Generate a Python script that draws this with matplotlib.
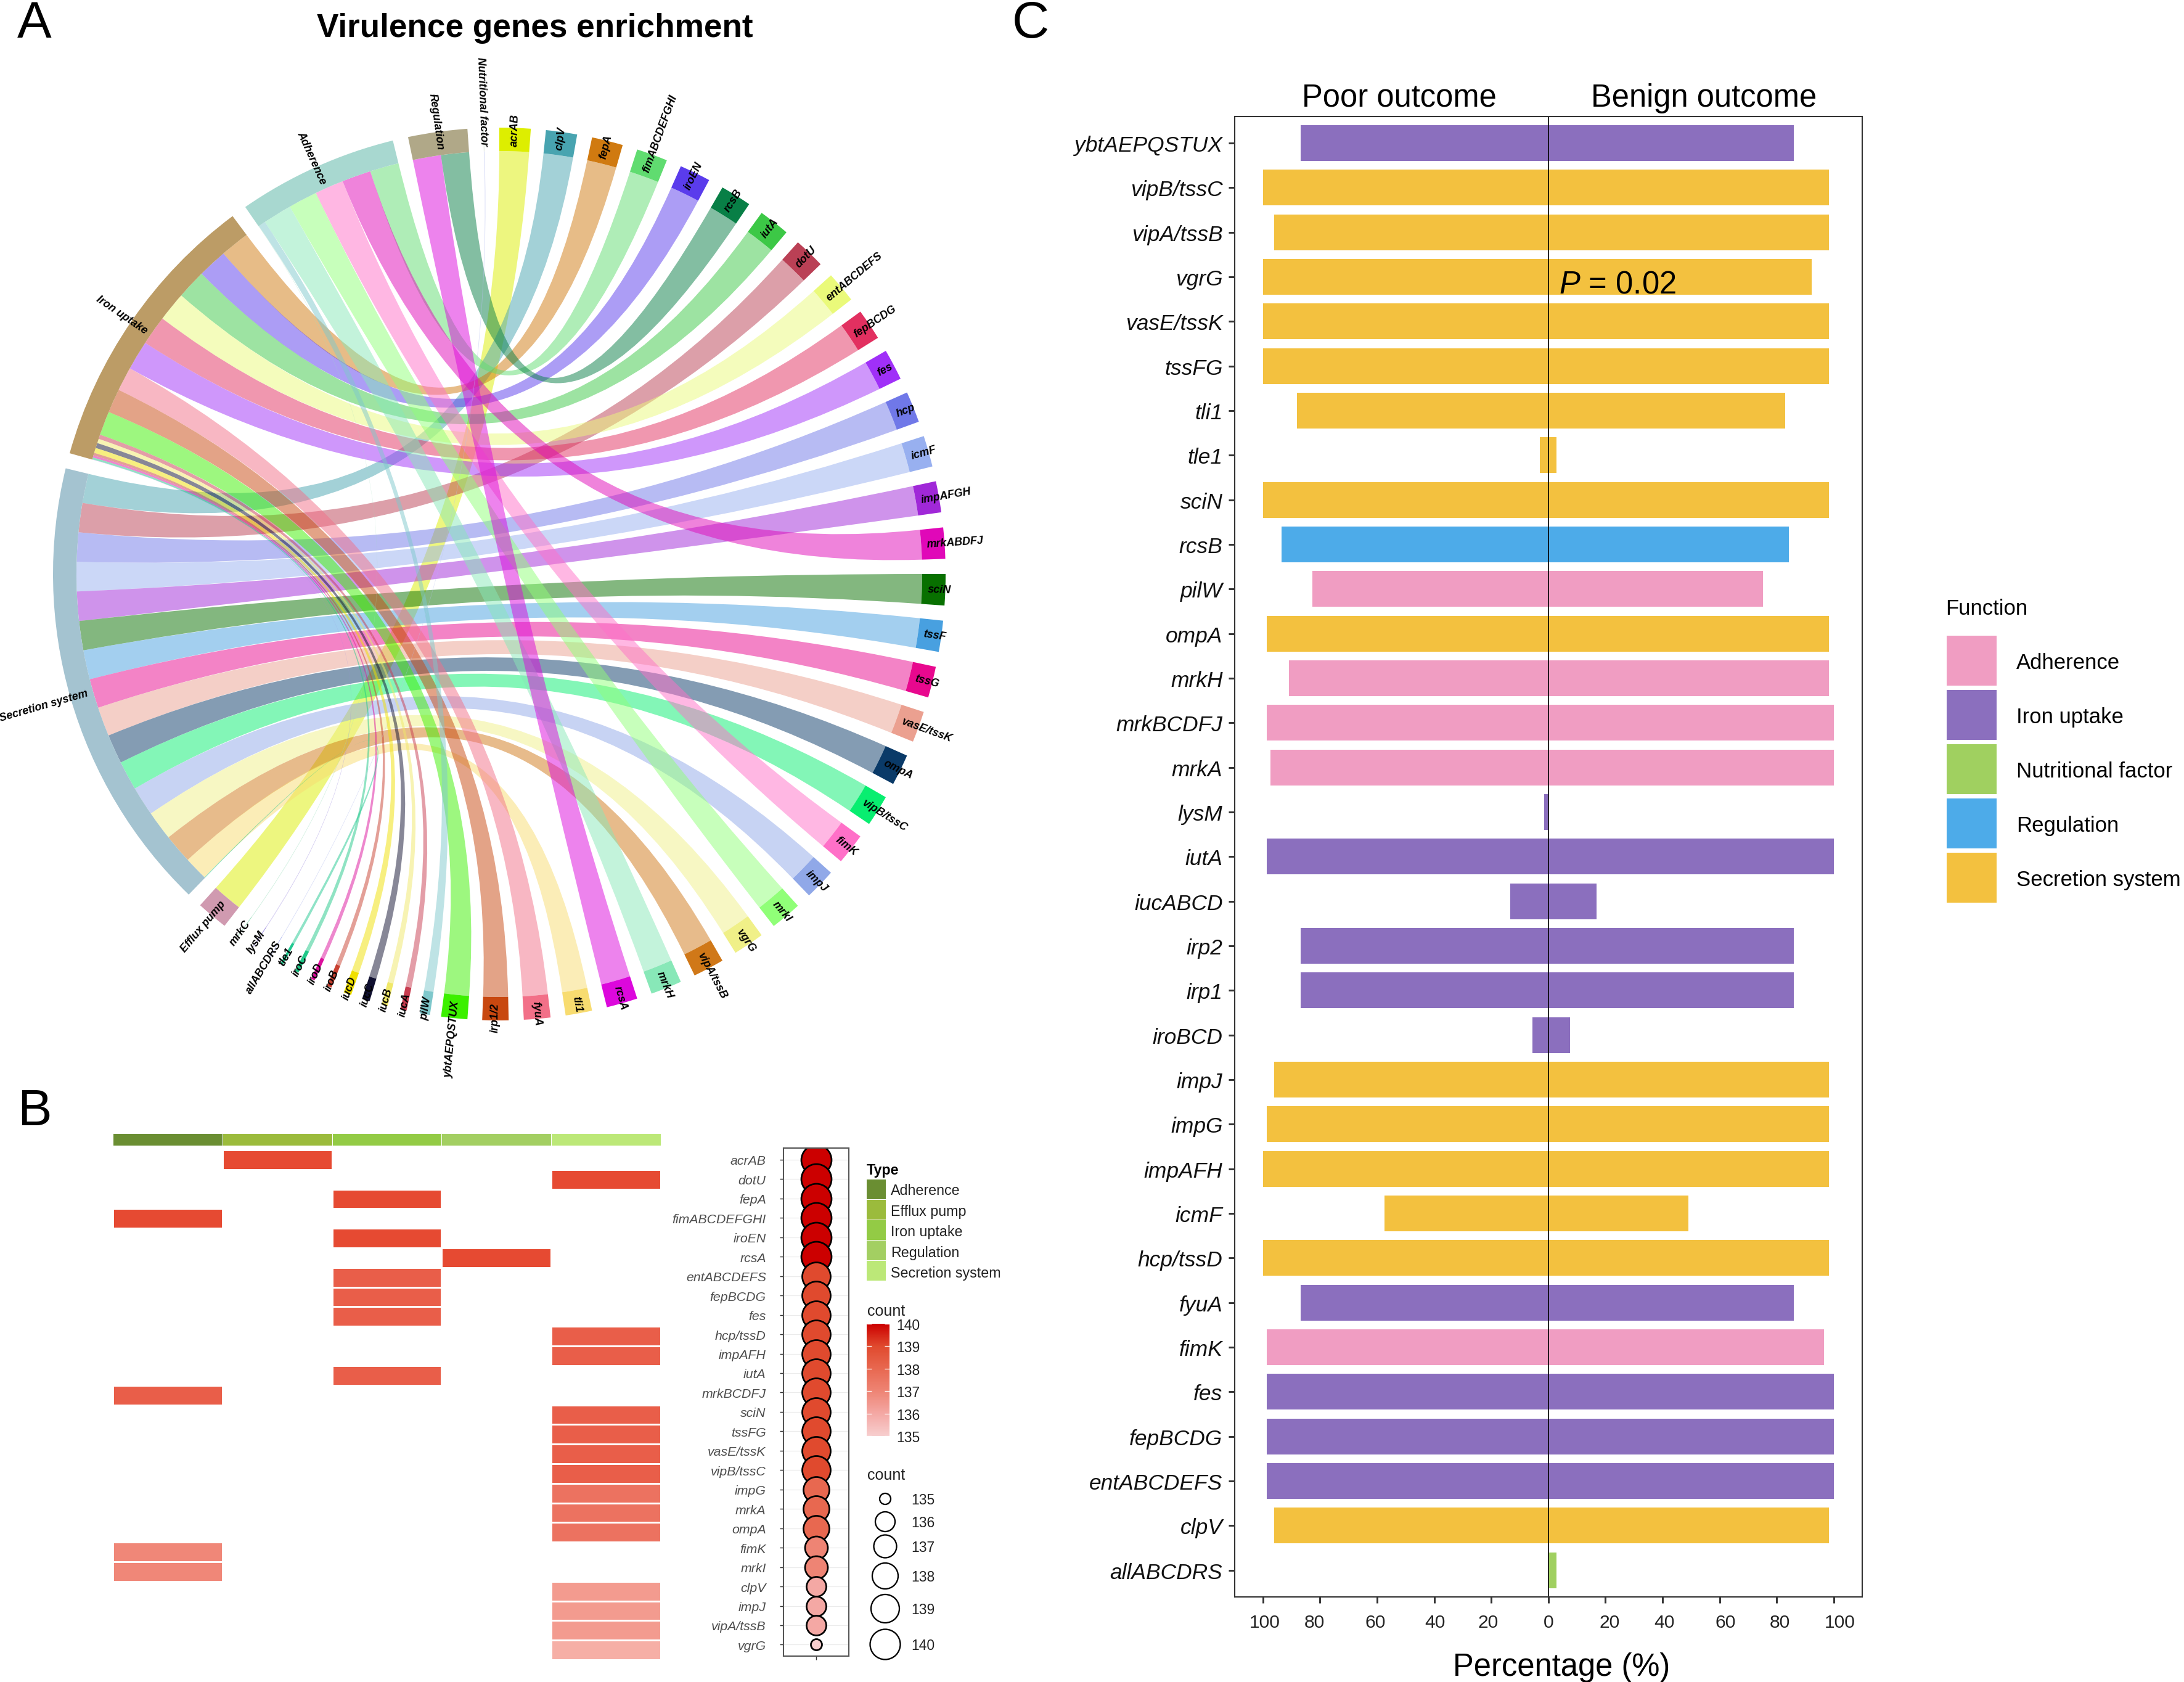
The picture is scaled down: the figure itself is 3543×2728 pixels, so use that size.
import numpy as np
import matplotlib
matplotlib.use("Agg")
import matplotlib.pyplot as plt
from matplotlib.colors import LinearSegmentedColormap, Normalize, to_rgba
from matplotlib.patches import PathPatch, Rectangle, Wedge, Circle
from matplotlib.path import Path
from matplotlib.cm import ScalarMappable
from matplotlib.transforms import ScaledTranslation

plt.rcParams["font.family"] = ["Liberation Sans", "DejaVu Sans"]
plt.rcParams["mathtext.fontset"] = "custom"
plt.rcParams["mathtext.it"] = "Liberation Sans:italic"
plt.rcParams["mathtext.rm"] = "Liberation Sans"

W, H = 3543, 2729

# ---- panel A data (angles in degrees, clockwise from top) ----
gene_names = ["acrAB", "clpV", "fepA", "fimABCDEFGHI", "iroEN", "rcsB", "iutA", "dotU", "entABCDEFS",
              "fepBCDG", "fes", "hcp", "icmF", "impAFGH", "mrkABDFJ", "sciN", "tssF", "tssG", "vasE/tssK",
              "ompA", "vipB/tssC", "fimK", "impJ", "mrkI", "vgrG", "vipA/tssB", "mrkH", "rcsA", "tli1",
              "fyuA", "irp1/2", "ybtAEPQSTUX", "pilW", "iucA", "iucB", "iucC", "iucD", "iroB", "iroD",
              "iroC", "tle1", "allABCDRS", "lysM", "mrkC"]
gene_start = [0, 6, 12, 18, 24, 30, 36, 42, 48, 54, 60, 66, 72, 78, 84, 90, 96, 102, 108, 114, 120, 126,
              132, 138, 144, 150, 156, 162, 168, 173.4, 178.8, 184.1, 188.95, 192.0, 194.5, 196.9, 199.4,
              202.1, 204.45, 206.75, 209.0, 210.9, 213.4, 215.8]
gene_width = [4.05] * 28 + [3.45, 3.45, 3.4, 3.4, 1.3, 0.8, 0.8, 1.0, 1.0, 0.6, 0.5, 0.5, 0.35, 0.08, 0.08, 0.08]
gene_cat = ["Efflux pump", "Secretion system", "Iron uptake", "Adherence", "Iron uptake", "Regulation",
            "Iron uptake", "Secretion system", "Iron uptake", "Iron uptake", "Iron uptake",
            "Secretion system", "Secretion system", "Secretion system", "Adherence", "Secretion system",
            "Secretion system", "Secretion system", "Secretion system", "Secretion system",
            "Secretion system", "Adherence", "Secretion system", "Adherence", "Secretion system",
            "Secretion system", "Adherence", "Regulation", "Secretion system", "Iron uptake", "Iron uptake",
            "Iron uptake", "Adherence", "Iron uptake", "Iron uptake", "Iron uptake", "Iron uptake",
            "Iron uptake", "Iron uptake", "Iron uptake", "Secretion system", "Nutritional factor",
            "Iron uptake", "Adherence"]
# width of each link where it lands on its category sector
link_width = [4.05] * 28 + [3.3, 3.3, 3.3, 3.3, 1.0, 0.6, 0.6, 0.7, 0.7, 0.35, 0.3, 0.25, 0.1, 0.1, 0.05, 0.05]
gene_color = ["#DDEE00", "#48A4B0", "#D07A10", "#60DC70", "#5A3CEC", "#087F46", "#3CC846", "#BA4055",
              "#EAFA7A", "#E23060", "#A030F8", "#7078E8", "#98B0F0", "#A028D8", "#E008B8", "#087000",
              "#48A0E0", "#E8088E", "#EBA090", "#0A3A68", "#08EE70", "#FF70C8", "#90A8E8", "#90FF78",
              "#F0F088", "#D07818", "#88E8B8", "#DC08DC", "#F8DC70", "#F27088", "#C84810", "#3CF000",
              "#7FC8CC", "#C83C50", "#F0E868", "#101030", "#F0E000", "#C84030", "#DC109C", "#20C888",
              "#20C890", "#B8C0F0", "#A090E0", "#A0E0C0"]
cat_names = ["Efflux pump", "Secretion system", "Iron uptake", "Adherence", "Regulation", "Nutritional factor"]
cat_start = [218.0, 224.1, 285.7, 325.3, 348.2, 357.9]
cat_end = [222.1, 283.7, 323.3, 346.2, 355.9, 358.0]
cat_color = ["#D09AB0", "#A4C3D0", "#BC9C66", "#A8D8D0", "#B0A888", "#E0E8E0"]

# ---- panel B data ----
row_genes = ["acrAB", "dotU", "fepA", "fimABCDEFGHI", "iroEN", "rcsA", "entABCDEFS", "fepBCDG", "fes",
             "hcp/tssD", "impAFH", "iutA", "mrkBCDFJ", "sciN", "tssFG", "vasE/tssK", "vipB/tssC", "impG",
             "mrkA", "ompA", "fimK", "mrkI", "clpV", "impJ", "vipA/tssB", "vgrG"]
row_type = ["Efflux pump", "Secretion system", "Iron uptake", "Adherence", "Iron uptake", "Regulation",
            "Iron uptake", "Iron uptake", "Iron uptake", "Secretion system", "Secretion system",
            "Iron uptake", "Adherence", "Secretion system", "Secretion system", "Secretion system",
            "Secretion system", "Secretion system", "Secretion system", "Secretion system", "Adherence",
            "Adherence", "Secretion system", "Secretion system", "Secretion system", "Secretion system"]
row_count = [140, 140, 140, 140, 140, 140, 139, 139, 139, 139, 139, 139, 139, 139, 139, 139, 139,
             138, 138, 138, 137, 137, 136, 136, 136, 135]
type_names = ["Adherence", "Efflux pump", "Iron uptake", "Regulation", "Secretion system"]
type_color = ["#6A8E32", "#9BBB3C", "#93CB45", "#A3CF62", "#BCE878"]
size_counts = [135, 136, 137, 138, 139, 140]
size_diam_px = [18, 32, 37, 42, 46, 49]

# ---- panel C data ----
bar_genes = ["ybtAEPQSTUX", "vipB/tssC", "vipA/tssB", "vgrG", "vasE/tssK", "tssFG", "tli1", "tle1", "sciN",
             "rcsB", "pilW", "ompA", "mrkH", "mrkBCDFJ", "mrkA", "lysM", "iutA", "iucABCD", "irp2", "irp1",
             "iroBCD", "impJ", "impG", "impAFH", "icmF", "hcp/tssD", "fyuA", "fimK", "fes", "fepBCDG",
             "entABCDEFS", "clpV", "allABCDRS"]
poor_pct = [86.7, 100, 96.1, 100, 100, 100, 88.1, 2.9, 100, 93.5, 82.7, 98.6, 90.8, 98.6, 97.4, 1.4, 98.6,
            13.4, 86.7, 86.7, 5.5, 96.1, 98.6, 100, 57.5, 100, 86.7, 98.6, 98.6, 98.6, 98.6, 96.1, 0]
benign_pct = [86, 98.3, 98.3, 92.2, 98.3, 98.3, 82.9, 2.9, 98.3, 84.3, 75.2, 98.3, 98.3, 100, 100, 0, 100,
              16.8, 86, 86, 7.5, 98.3, 98.3, 98.3, 49, 98.3, 86, 96.7, 100, 100, 100, 98.3, 2.9]
bar_func = ["Iron uptake", "Secretion system", "Secretion system", "Secretion system", "Secretion system",
            "Secretion system", "Secretion system", "Secretion system", "Secretion system", "Regulation",
            "Adherence", "Secretion system", "Adherence", "Adherence", "Adherence", "Iron uptake",
            "Iron uptake", "Iron uptake", "Iron uptake", "Iron uptake", "Iron uptake", "Secretion system",
            "Secretion system", "Secretion system", "Secretion system", "Secretion system", "Iron uptake",
            "Adherence", "Iron uptake", "Iron uptake", "Iron uptake", "Secretion system", "Nutritional factor"]
func_names = ["Adherence", "Iron uptake", "Nutritional factor", "Regulation", "Secretion system"]
func_color = ["#F09DC2", "#8B6FBE", "#A0D060", "#4DABE9", "#F3C13F"]
pct_ticks = [-100, -80, -60, -40, -20, 0, 20, 40, 60, 80, 100]
# the tick labels sit a little off their ticks in the original (pixels)
pct_label_dx = [3, -9, -3, 1, -5, 0, 7, 3, 10, 5, 10]


fig = plt.figure(figsize=(W / 300, H / 300), dpi=300, facecolor="white")

def axes_px(l, t, r, b):
    return fig.add_axes([l / W, 1 - b / H, (r - l) / W, (b - t) / H])

# overlay in pixel coordinates for titles and hand made legends
ov = axes_px(0, 0, W, H)
ov.set_xlim(0, W); ov.set_ylim(H, 0); ov.axis("off"); ov.set_zorder(5); ov.patch.set_alpha(0)

# ---- A: chord diagram ----
CX, CY, R_OUT, R_IN, R_TXT = 810, 932, 724, 686, 695
ax = axes_px(0, 60, 1650, 1760)
ax.set_xlim(-CX, 1650 - CX); ax.set_ylim(CY - 1760, CY - 60); ax.axis("off")

def polar(theta, r):
    t = np.radians(theta)
    return r * np.sin(t), r * np.cos(t)

def arc(a, b, r, n=12):
    x, y = polar(np.linspace(a, b, n), r)
    return list(zip(x, y))

def chord(b0, b1, a0, a1, col):
    verts = arc(b0, b1, R_IN)
    codes = [Path.MOVETO] + [Path.LINETO] * (len(verts) - 1)
    end_a = arc(a0, a1, R_IN)
    verts += [(0, 0), end_a[0]]; codes += [Path.CURVE3, Path.CURVE3]
    verts += end_a[1:]; codes += [Path.LINETO] * (len(end_a) - 1)
    verts += [(0, 0), (polar(b0, R_IN))]; codes += [Path.CURVE3, Path.CURVE3]
    ax.add_patch(PathPatch(Path(verts, codes), fc=to_rgba(col, 0.5), ec="none", lw=0))

def sector(a, b, col):
    ax.add_patch(Wedge((0, 0), R_OUT, 90 - b, 90 - a, width=R_OUT - R_IN, fc=col, ec="none", lw=0))

def sector_label(theta, name):
    x, y = polar(theta, R_TXT)
    if theta % 360 < 180:
        rot, ha = 90 - theta, "left"
    else:
        rot, ha = 270 - theta, "right"
    ax.text(x, y, name, rotation=rot, rotation_mode="anchor", ha=ha, va="center",
            fontsize=4.3, fontstyle="italic", fontweight="bold", color="black", zorder=6)

# each category sector is filled from its end backwards, links in gene order
cursor = dict(zip(cat_names, cat_end))
span = dict(zip(cat_names, np.array(cat_end) - np.array(cat_start)))
totals = {c: sum(w for w, g in zip(link_width, gene_cat) if g == c) for c in cat_names}
for s, w, c, col, lw_ in zip(gene_start, gene_width, gene_cat, gene_color, link_width):
    dw = lw_ * span[c] / totals[c]
    a1 = cursor[c]; a0 = a1 - dw
    cursor[c] = a0
    chord(s, s + w, a0, a1, col)
for s, w, col, name in zip(gene_start, gene_width, gene_color, gene_names):
    sector(s, s + w, col)
    sector_label(s + w / 2, name)
for a, b, col, name in zip(cat_start, cat_end, cat_color, cat_names):
    sector(a, b, col)
    sector_label((a + b) / 2, name)

ov.text(868, 46, "Virulence genes enrichment", fontsize=12.75, fontweight="bold", ha="center", va="center")
for lab, x, y in (("A", 56, 39), ("B", 56, 1803), ("C", 1672, 39)):
    ov.text(x, y, lab, fontsize=20, ha="center", va="center")

# ---- B: heatmap, top annotation and dot plot ----
n_rows = len(row_genes)
mat = np.full((n_rows, len(type_names)), np.nan)
for i, (t, c) in enumerate(zip(row_type, row_count)):
    mat[i, type_names.index(t)] = c
heat_cmap = LinearSegmentedColormap.from_list("heat", ["#F6AFA6", "#E64A32"])
dot_cmap = LinearSegmentedColormap.from_list(
    "dots", ["#F7CECE", "#F4A8A4", "#EE8474", "#E86850", "#E04A2E", "#CC0000"])
cnorm = Normalize(135, 140)

ah = axes_px(183, 1866, 1072, 2693)
ah.pcolormesh(np.arange(len(type_names) + 1), np.arange(n_rows + 1), mat, cmap=heat_cmap, norm=cnorm,
              edgecolors="white", linewidth=0.25)
ah.set_ylim(n_rows, 0); ah.axis("off")

at = axes_px(183, 1839, 1072, 1859)
at.bar(np.arange(len(type_names)) + 0.5, [1] * len(type_names), width=1, color=type_color, ec="white", lw=0.25)
at.set_xlim(0, len(type_names)); at.set_ylim(0, 1); at.axis("off")

ad = axes_px(1271, 1863, 1377, 2687)
yy = np.arange(n_rows)
diam_of = dict(zip(size_counts, size_diam_px))
sizes = [(diam_of[c] * 72 / 300) ** 2 for c in row_count]
ad.hlines(yy, -1, 1, color="#EBEBEB", lw=0.3, zorder=0)
for y, c, s in zip(yy, row_count, sizes):
    ad.scatter([0], [y], s=s, color=dot_cmap(cnorm(c)), edgecolor="black", linewidth=0.65, zorder=2 + y)
ad.set_xlim(-1, 1); ad.set_ylim(n_rows - 1 + 0.59, -0.6)
ad.set_xticks([0]); ad.set_xticklabels([""])
ad.set_yticks(yy)
ad.set_yticklabels(row_genes, fontsize=5.1, fontstyle="italic", color="#4D4D4D")
ad.tick_params(axis="both", length=1.4, width=0.35, color="#333333", pad=5.4)
for sp in ad.spines.values():
    sp.set_linewidth(0.5); sp.set_color("#555555")

# B legends
ov.text(1406, 1899, "Type", fontsize=5.6, fontweight="bold", va="center")
for i, (name, col) in enumerate(zip(type_names, type_color)):
    ov.add_patch(Rectangle((1406, 1913.6 + i * 33), 31, 32.5, fc=col, ec="none"))
    ov.text(1445, 1932 + i * 33.4, name, fontsize=5.6, va="center", color="#222222")
ov.text(1407, 2127, "count", fontsize=6, va="center", color="#222222")
cax = axes_px(1406, 2148, 1443, 2330)
cb = fig.colorbar(ScalarMappable(norm=cnorm, cmap=dot_cmap), cax=cax, ticks=size_counts)
cb.outline.set_visible(False)
cb.ax.tick_params(length=2, width=0.3, color="white", direction="in", left=True, right=True,
                  labelsize=5.5, pad=2.8, labelcolor="#222222")
ov.text(1407, 2393, "count", fontsize=6, va="center", color="#222222")
for c, d, yc in zip(size_counts, size_diam_px, [2432, 2469, 2509, 2557, 2610, 2668]):
    ov.add_patch(Circle((1436, yc), d / 2, fc="white", ec="black", lw=0.55))
    ov.text(1478, yc + 2, str(c), fontsize=5.5, va="center", color="#222222")

# ---- C: butterfly bars ----
ac = axes_px(2002.6, 189.5, 3021, 2591)
yb = np.arange(len(bar_genes))
bar_cols = [func_color[func_names.index(f)] for f in bar_func]
ac.barh(yb, -np.array(poor_pct), height=0.8, color=bar_cols)
ac.barh(yb, benign_pct, height=0.8, color=bar_cols)
ac.axvline(0, color="black", lw=0.4)
ac.set_xlim(-110, 110); ac.set_ylim(len(bar_genes) - 0.4, -0.6)
ac.set_xticks(pct_ticks); ac.set_xticklabels([str(abs(t)) for t in pct_ticks], fontsize=7.2, color="#222222")
ac.set_yticks(yb); ac.set_yticklabels(bar_genes, fontsize=8.5, fontstyle="italic", color="#111111")
ac.tick_params(axis="y", length=2.4, width=0.7, color="#333333", pad=2.2)
ac.tick_params(axis="x", length=2.4, width=0.7, color="#333333", pad=4.2)
for lbl, dx in zip(ac.get_xticklabels(), pct_label_dx):
    lbl.set_transform(lbl.get_transform() + ScaledTranslation(dx / 300, 0, fig.dpi_scale_trans))
for sp in ac.spines.values():
    sp.set_linewidth(0.5); sp.set_color("#333333")
ov.text(2270, 159, "Poor outcome", fontsize=12.2, ha="center", va="center")
ov.text(2764, 159, "Benign outcome", fontsize=12.2, ha="center", va="center")
ov.text(2529, 475, r"$\mathit{P}$ = 0.02", fontsize=12.2, ha="left", va="baseline")
ov.text(2533, 2705, "Percentage (%)", fontsize=12.2, ha="center", va="center")

# C legend
ov.text(3156, 988, "Function", fontsize=8.3, va="center")
for i, (name, col) in enumerate(zip(func_names, func_color)):
    y0 = 1032 + i * 87.9
    ov.add_patch(Rectangle((3157.5, y0), 81, 81, fc=col, ec="none"))
    ov.text(3271, y0 + 44, name, fontsize=8.35, va="center")

fig.savefig("out.png", dpi=300)
print("saved out.png")
